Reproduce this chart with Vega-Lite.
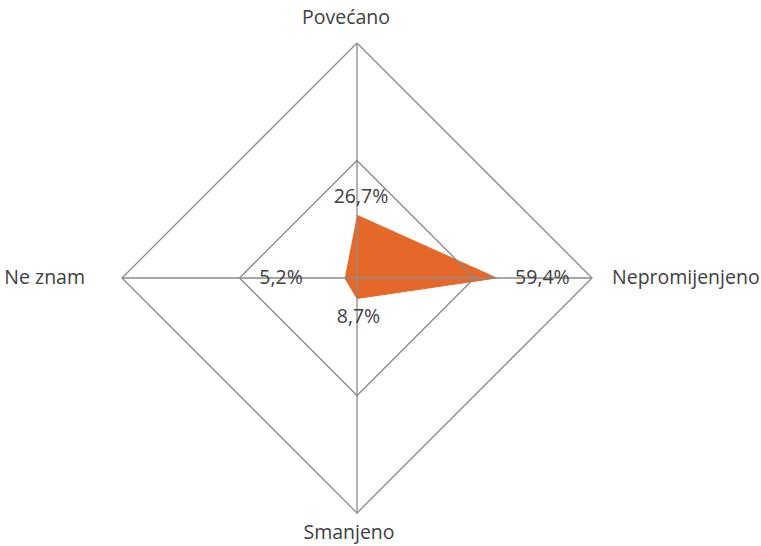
{
  "$schema": "https://vega.github.io/schema/vega-lite/v6.json",
  "width": 470,
  "height": 470,
  "autosize": "none",
  "padding": {"left": 122, "top": 43, "right": 169, "bottom": 33},
  "background": "white",
  "config": {"view": {"stroke": null}, "font": "Open Sans"},
  "datasets": {
    "grid": [
      {"ring": 50, "k": 0, "x": 0, "y": 50},
      {"ring": 50, "k": 1, "x": 50, "y": 0},
      {"ring": 50, "k": 2, "x": 0, "y": -50},
      {"ring": 50, "k": 3, "x": -50, "y": 0},
      {"ring": 50, "k": 4, "x": 0, "y": 50},
      {"ring": 100, "k": 0, "x": 0, "y": 100},
      {"ring": 100, "k": 1, "x": 100, "y": 0},
      {"ring": 100, "k": 2, "x": 0, "y": -100},
      {"ring": 100, "k": 3, "x": -100, "y": 0},
      {"ring": 100, "k": 4, "x": 0, "y": 100}
    ],
    "spokes": [
      {"x": -100, "x2": 100, "y": 0, "y2": 0},
      {"x": 0, "x2": 0, "y": -100, "y2": 100}
    ],
    "values": [
      {"category": "Povećano", "k": 0, "x": 0, "y": 26.7, "label": "26,7%"},
      {"category": "Nepromijenjeno", "k": 1, "x": 59.4, "y": 0, "label": "59,4%"},
      {"category": "Smanjeno", "k": 2, "x": 0, "y": -8.7, "label": "8,7%"},
      {"category": "Ne znam", "k": 3, "x": -5.2, "y": 0, "label": "5,2%"}
    ],
    "cats": [
      {"category": "Povećano", "x": 0, "y": 100},
      {"category": "Nepromijenjeno", "x": 100, "y": 0},
      {"category": "Smanjeno", "x": 0, "y": -100},
      {"category": "Ne znam", "x": -100, "y": 0}
    ]
  },
  "encoding": {
    "x": {"field": "x", "type": "quantitative", "scale": {"domain": [-100, 100]}, "axis": null},
    "y": {"field": "y", "type": "quantitative", "scale": {"domain": [-100, 100]}, "axis": null}
  },
  "layer": [
    {
      "data": {"name": "values"},
      "mark": {"type": "line", "fill": "#E5682A", "stroke": "#E5682A", "strokeWidth": 1, "fillOpacity": 1},
      "encoding": {"order": {"field": "k", "type": "quantitative"}}
    },
    {
      "data": {"name": "grid"},
      "mark": {"type": "line", "stroke": "#8a8a8a", "strokeWidth": 1.3},
      "encoding": {
        "detail": {"field": "ring", "type": "nominal"},
        "order": {"field": "k", "type": "quantitative"}
      }
    },
    {
      "data": {"name": "spokes"},
      "mark": {"type": "rule", "stroke": "#8a8a8a", "strokeWidth": 1.3},
      "encoding": {"x2": {"field": "x2"}, "y2": {"field": "y2"}}
    },
    {
      "data": {"name": "values"},
      "transform": [{"filter": "datum.category === 'Povećano'"}],
      "mark": {"type": "text", "fontSize": 19.5, "color": "#404040", "dx": 4, "dy": -18, "align": "center", "baseline": "middle"},
      "encoding": {"text": {"field": "label"}}
    },
    {
      "data": {"name": "values"},
      "transform": [{"filter": "datum.category === 'Nepromijenjeno'"}],
      "mark": {"type": "text", "fontSize": 19.5, "color": "#404040", "dx": 18.5, "dy": 0, "align": "left", "baseline": "middle"},
      "encoding": {"text": {"field": "label"}}
    },
    {
      "data": {"name": "values"},
      "transform": [{"filter": "datum.category === 'Smanjeno'"}],
      "mark": {"type": "text", "fontSize": 19.5, "color": "#404040", "dx": 1.5, "dy": 19, "align": "center", "baseline": "middle"},
      "encoding": {"text": {"field": "label"}}
    },
    {
      "data": {"name": "values"},
      "transform": [{"filter": "datum.category === 'Ne znam'"}],
      "mark": {"type": "text", "fontSize": 19.5, "color": "#404040", "dx": -42, "dy": 0, "align": "right", "baseline": "middle"},
      "encoding": {"text": {"field": "label"}}
    },
    {
      "data": {"name": "cats"},
      "transform": [{"filter": "datum.category === 'Povećano'"}],
      "mark": {"type": "text", "fontSize": 19.5, "color": "#404040", "dx": -11, "dy": -25, "align": "center", "baseline": "middle"},
      "encoding": {"text": {"field": "category"}}
    },
    {
      "data": {"name": "cats"},
      "transform": [{"filter": "datum.category === 'Nepromijenjeno'"}],
      "mark": {"type": "text", "fontSize": 19.5, "color": "#404040", "dx": 20, "dy": 0, "align": "left", "baseline": "middle"},
      "encoding": {"text": {"field": "category"}}
    },
    {
      "data": {"name": "cats"},
      "transform": [{"filter": "datum.category === 'Smanjeno'"}],
      "mark": {"type": "text", "fontSize": 19.5, "color": "#404040", "dx": -8, "dy": 20, "align": "center", "baseline": "middle"},
      "encoding": {"text": {"field": "category"}}
    },
    {
      "data": {"name": "cats"},
      "transform": [{"filter": "datum.category === 'Ne znam'"}],
      "mark": {"type": "text", "fontSize": 19.5, "color": "#404040", "dx": -37, "dy": 0, "align": "right", "baseline": "middle"},
      "encoding": {"text": {"field": "category"}}
    }
  ]
}
